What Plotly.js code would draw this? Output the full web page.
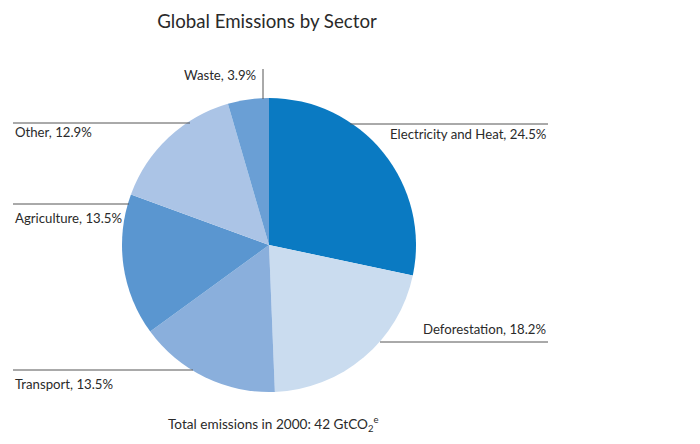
<!DOCTYPE html>
<html>
<head>
<meta charset="utf-8">
<script src="https://cdn.plot.ly/plotly-3.0.1.min.js"></script>
<style>html,body{margin:0;padding:0;background:#fff;}#chart{width:700px;height:444px;}</style>
</head>
<body>
<div id="chart"></div>
<script>
// Share of global greenhouse-gas emissions by sector (per cent of 42 GtCO2e, year 2000)
const sectors = ["Electricity and Heat", "Deforestation", "Transport", "Agriculture", "Other", "Waste"];
const shares = [24.5, 18.2, 13.5, 13.5, 12.9, 3.9];
const colors = ["#0a7ac2", "#cadcef", "#8aafdc", "#5a96d0", "#abc4e6", "#6a9fd5"];

const labelText = sectors.map((s, i) => s + ", " + shares[i] + "%");

const W = 700, H = 444;
const px = x => x / W;
const py = y => 1 - y / H;

// Callout placement for each sector: leader line and label anchor (pixels)
const callouts = [
  {line: [350, 124, 548, 124], tx: 548, ty: 134, anchor: "right"},
  {line: [380, 342, 548, 342], tx: 548, ty: 329, anchor: "right"},
  {line: [13, 370, 193, 370], tx: 13, ty: 384, anchor: "left"},
  {line: [13, 204, 129, 204], tx: 13, ty: 218, anchor: "left"},
  {line: [13, 123, 190, 123], tx: 13, ty: 132, anchor: "left"},
  {line: [263, 69, 263, 99], tx: 258, ty: 75, anchor: "right"}
];

const shapes = callouts.map(c => ({
  type: "line", xref: "paper", yref: "paper",
  x0: px(c.line[0]), y0: py(c.line[1]), x1: px(c.line[2]), y1: py(c.line[3]),
  line: {color: "#555", width: 1}
}));

const labelFont = {family: "Lato, 'Open Sans', sans-serif", size: 13.2, color: "#2a2a2a"};

const annotations = callouts.map((c, i) => ({
  xref: "paper", yref: "paper", x: px(c.tx), y: py(c.ty),
  xanchor: c.anchor, yanchor: "middle", showarrow: false,
  text: labelText[i], font: labelFont
}));

annotations.push({
  xref: "paper", yref: "paper", x: px(273), y: py(424),
  xanchor: "center", yanchor: "middle", showarrow: false,
  text: "Total emissions in 2000: 42 GtCO<sub>2</sub><sup>e</sup>",
  font: {family: "Lato, 'Open Sans', sans-serif", size: 13.6, color: "#2a2a2a"}
});

const cx = 269, cy = 245, r = 147;

const data = [{
  type: "pie",
  labels: sectors,
  values: shares,
  sort: false,
  direction: "clockwise",
  rotation: 0,
  textinfo: "none",
  hoverinfo: "label+percent",
  marker: {colors: colors, line: {width: 0}},
  domain: {x: [px(cx - r), px(cx + r)], y: [py(cy + r), py(cy - r)]}
}];

const layout = {
  width: W, height: H,
  margin: {l: 0, r: 0, t: 0, b: 0},
  paper_bgcolor: "#fff",
  showlegend: false,
  title: {
    text: "Global Emissions by Sector",
    x: px(267), xanchor: "center",
    y: py(21), yanchor: "middle",
    font: {family: "Lato, 'Open Sans', sans-serif", size: 18.7, color: "#2a2a2a"}
  },
  shapes: shapes,
  annotations: annotations
};

Plotly.newPlot("chart", data, layout, {displayModeBar: false, staticPlot: true});
</script>
</body>
</html>
